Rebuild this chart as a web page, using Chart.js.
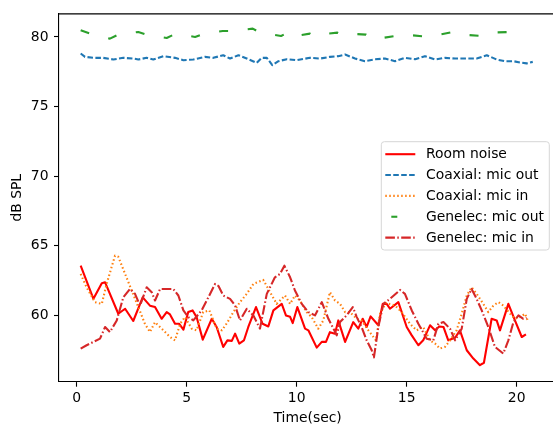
<!DOCTYPE html>
<html><head><meta charset="utf-8">
<script src="https://cdn.jsdelivr.net/npm/chart.js@4"></script>
<style>
html,body{margin:0;padding:0;background:#fff;overflow:hidden;width:553px;height:425px}
#wrap{position:relative;width:562px;height:425px}
</style>
</head><body><div id="wrap"><canvas id="c" width="562" height="425"></canvas></div>
<script>
// ---- data ----
const xTicks = [0, 5, 10, 15, 20];
const yTicks = [60, 65, 70, 75, 80];
const seriesNames = ["Room noise", "Coaxial: mic out", "Coaxial: mic in", "Genelec: mic out", "Genelec: mic in"];

const roomT = [0.18,0.76,1.14,1.29,1.89,2.2,2.57,3.0,3.33,3.56,3.86,4.09,4.24,4.47,4.66,4.85,5.07,5.27,5.45,5.73,6.14,6.36,6.66,6.85,7.05,7.2,7.39,7.6,7.8,8.15,8.45,8.71,8.94,9.32,9.51,9.7,9.82,10.03,10.38,10.53,10.91,11.14,11.33,11.51,11.74,11.89,12.2,12.57,12.8,13.0,13.18,13.36,13.71,13.91,14.09,14.24,14.62,15.0,15.23,15.53,15.75,16.06,16.29,16.48,16.67,16.89,17.2,17.42,17.73,18.03,18.33,18.51,18.86,19.09,19.24,19.62,19.92,20.23,20.42];
const roomV = [63.57,61.19,62.31,62.38,60.12,60.48,59.6,61.3,60.7,60.6,59.76,60.24,60.07,59.4,59.4,58.98,60.24,60.36,59.88,58.26,59.76,59.17,57.74,58.21,58.17,58.69,57.98,58.2,59.17,60.6,59.4,59.21,60.36,60.83,60.0,59.9,59.45,60.6,59.05,58.93,57.69,58.1,58.1,58.8,58.69,59.64,58.1,59.52,59.05,59.76,59.17,59.93,59.29,60.83,60.83,60.48,60.95,59.17,58.57,57.86,58.21,59.29,58.93,59.21,59.17,58.21,58.4,58.93,57.5,56.9,56.43,56.6,59.76,59.64,58.93,60.83,59.64,58.45,58.64];

const coaxOutT = [0.18,0.38,0.76,1.21,1.67,2.12,2.57,2.8,3.18,3.48,3.94,4.47,4.85,5.3,5.83,6.21,6.66,6.97,7.35,7.73,8.18,8.41,8.64,8.89,9.17,9.55,10.0,10.3,10.6,11.06,11.51,11.89,12.2,12.65,13.1,13.56,14.01,14.47,14.92,15.38,15.83,16.29,16.74,17.2,17.65,18.18,18.64,19.09,19.47,19.85,20.15,20.45,20.73];
const coaxOutV = [78.81,78.57,78.5,78.5,78.38,78.5,78.45,78.38,78.5,78.38,78.62,78.5,78.33,78.38,78.57,78.5,78.69,78.45,78.69,78.45,78.14,78.5,78.5,77.98,78.26,78.4,78.33,78.42,78.5,78.45,78.57,78.62,78.74,78.45,78.26,78.4,78.45,78.26,78.5,78.4,78.62,78.38,78.5,78.45,78.45,78.45,78.69,78.38,78.26,78.26,78.17,78.1,78.21];

const coaxInT = [0.18,0.45,0.83,1.14,1.36,1.74,1.89,2.2,2.5,2.8,3.1,3.33,3.56,3.94,4.24,4.47,4.7,4.92,5.23,5.45,5.75,6.03,6.36,6.6,6.85,7.12,7.42,7.73,8.03,8.48,8.79,9.09,9.47,9.7,9.92,10.15,10.45,10.68,10.98,11.21,11.51,11.74,11.97,12.2,12.42,12.73,12.95,13.26,13.6,13.79,14.05,14.47,14.77,15.15,15.45,15.75,16.06,16.29,16.51,16.74,16.97,17.27,17.5,17.73,17.95,18.18,18.48,18.71,18.94,19.17,19.39,19.7,19.92,20.15,20.38,20.53];
const coaxInV = [62.98,62.02,60.95,60.83,62.26,64.29,64.21,62.98,61.79,60.6,59.4,58.81,59.52,58.93,58.45,58.21,59.4,59.88,59.05,58.93,60.24,60.36,59.05,58.93,59.5,60.24,60.95,61.55,62.26,62.55,61.67,60.83,61.43,60.83,61.43,61.07,60.24,59.88,59.05,59.64,61.67,61.07,60.83,60.24,60.24,59.76,59.64,58.93,58.21,60.12,60.9,60.71,60.24,59.4,58.93,59.17,58.21,57.98,57.62,57.74,58.21,58.93,60.12,61.43,62.02,61.55,60.83,60.24,60.71,60.95,60.71,60.12,59.76,59.88,60.12,59.52];

const genOutT = [0.18,0.6,1.51,1.89,2.8,3.26,4.09,4.51,5.38,5.79,6.64,7.09,8.0,8.33,9.29,9.51,9.66,10.6,10.76,10.94,11.85,12.05,12.27,13.15,13.51,14.47,14.85,15.73,16.14,17.09,17.5,18.41,18.82,19.73,19.85,20.0];
const genOutV = [80.48,80.24,79.88,80.17,80.36,80.12,79.93,80.24,80.0,80.24,80.43,80.43,80.6,80.31,80.07,80.24,80.0,80.24,80.07,80.17,80.31,80.17,80.24,80.17,79.83,80.07,80.17,80.05,80.05,80.36,80.17,80.07,80.31,80.36,80.17,80.31];

const genInT = [0.18,0.45,0.76,1.06,1.29,1.51,1.82,2.12,2.42,2.65,2.88,3.18,3.41,3.56,3.79,4.09,4.39,4.62,4.85,5.07,5.3,5.68,5.91,6.29,6.45,6.66,6.97,7.2,7.42,7.73,8.03,8.33,8.64,9.01,9.24,9.44,9.7,9.92,10.23,10.53,10.83,11.14,11.44,11.67,11.82,11.97,12.27,12.55,12.73,12.95,13.18,13.41,13.51,13.71,13.94,14.24,14.7,14.92,15.23,15.53,15.91,16.21,16.44,16.67,16.97,17.2,17.5,17.73,17.95,18.18,18.41,18.71,19.01,19.39,19.62,19.85,20.08,20.3,20.45];
const genInV = [57.62,57.86,58.1,58.33,59.17,58.81,59.64,61.31,61.9,61.55,60.71,62.02,61.67,61.07,61.9,61.9,61.9,61.43,60.36,59.88,59.64,60.36,61.07,62.26,62.1,61.43,61.19,60.71,59.64,60.48,60.0,59.05,61.55,62.74,62.98,63.57,62.74,61.79,60.83,60.24,60.0,60.95,59.76,59.05,58.57,59.52,60.0,60.6,59.88,59.17,58.21,57.5,56.98,59.17,60.83,61.19,61.83,61.55,60.36,59.4,58.33,58.21,59.4,59.52,59.05,58.21,59.05,61.19,61.9,61.19,60.36,59.17,57.74,57.26,58.21,59.52,60.0,59.76,59.83];

// ---- styling ----
const FONT = "'DejaVu Sans', 'Liberation Sans', sans-serif";
const FS = 13.9;
const pts = (t, v) => t.map((x, i) => ({x: x, y: v[i]}));
const styles = [
  {color: '#ff0000', dash: []},
  {color: '#1f77b4', dash: [5.55, 2.4]},
  {color: '#ff7f0e', dash: [1.5, 2.475]},
  {color: '#2ca02c', dash: [9, 19.7]},
  {color: '#d62728', dash: [9.6, 2.4, 1.5, 2.4]}
];
const allT = [roomT, coaxOutT, coaxInT, genOutT, genInT];
const allV = [roomV, coaxOutV, coaxInV, genOutV, genInV];

const datasets = seriesNames.map((name, i) => ({
  label: name,
  data: pts(allT[i], allV[i]),
  borderColor: styles[i].color,
  backgroundColor: styles[i].color,
  borderDash: styles[i].dash,
  borderCapStyle: 'butt',
  borderJoinStyle: 'round',
  borderWidth: 2.1,
  pointRadius: 0,
  tension: 0,
  fill: false,
  order: 10 - i
}));

const framePlugin = {
  id: 'frame',
  afterDraw(chart) {
    const {ctx, chartArea: a} = chart;
    ctx.save();
    ctx.strokeStyle = '#000';
    ctx.lineWidth = 1.1;
    ctx.beginPath();
    ctx.moveTo(a.left, a.top); ctx.lineTo(a.right, a.top);
    ctx.lineTo(a.right, a.bottom);
    ctx.stroke();
    ctx.restore();
  }
};

const legendPlugin = {
  id: 'mplLegend',
  afterDraw(chart) {
    const {ctx, chartArea: a} = chart;
    const right = a.right - 7, left = right - 168, top = 141.7, bottom = 250;
    ctx.save();
    const r = 3;
    ctx.beginPath();
    ctx.moveTo(left + r, top);
    ctx.lineTo(right - r, top); ctx.arcTo(right, top, right, top + r, r);
    ctx.lineTo(right, bottom - r); ctx.arcTo(right, bottom, right - r, bottom, r);
    ctx.lineTo(left + r, bottom); ctx.arcTo(left, bottom, left, bottom - r, r);
    ctx.lineTo(left, top + r); ctx.arcTo(left, top, left + r, top, r);
    ctx.closePath();
    ctx.fillStyle = 'rgba(255,255,255,0.8)';
    ctx.fill();
    ctx.strokeStyle = '#d6d6d6';
    ctx.lineWidth = 1;
    ctx.stroke();
    ctx.font = FS + 'px ' + FONT;
    ctx.textBaseline = 'middle';
    ctx.textAlign = 'left';
    seriesNames.forEach((name, i) => {
      const y = 154.2 + i * 20.85;
      ctx.strokeStyle = styles[i].color;
      ctx.lineWidth = 2.1;
      ctx.lineCap = 'butt';
      ctx.beginPath();
      if (i === 3) {
        ctx.setLineDash([]);
        ctx.moveTo(left + 10, y); ctx.lineTo(left + 16, y);
      } else {
        ctx.setLineDash(styles[i].dash);
        ctx.moveTo(left + 4, y); ctx.lineTo(left + 34, y);
      }
      ctx.stroke();
      ctx.setLineDash([]);
      ctx.fillStyle = '#000';
      ctx.fillText(name, left + 44.7, y + 0.5);
    });
    ctx.restore();
  }
};

new Chart(document.getElementById('c'), {
  type: 'line',
  data: {datasets: datasets},
  plugins: [framePlugin, legendPlugin],
  options: {
    responsive: false,
    animation: false,
    devicePixelRatio: 1,
    layout: {padding: {top: 11.7, left: 0, right: 5.7, bottom: 0}},
    plugins: {legend: {display: false}, tooltip: {enabled: false}},
    scales: {
      x: {
        type: 'linear',
        min: -0.805, max: 21.8,
        afterBuildTicks: s => { s.ticks = xTicks.map(v => ({value: v})); },
        afterFit: s => { s.height = 43.3; },
        grid: {display: true, drawOnChartArea: false, drawTicks: true, tickLength: 5, tickWidth: 1.1, tickColor: '#000'},
        border: {display: true, color: '#000', width: 1.1},
        ticks: {color: '#000', font: {family: FONT, size: FS}, padding: 3, maxRotation: 0, autoSkip: false},
        title: {display: true, text: 'Time(sec)', color: '#000', font: {family: FONT, size: FS, lineHeight: 1}, padding: {top: 0, bottom: 0}}
      },
      y: {
        type: 'linear',
        min: 55.24, max: 81.66,
        afterBuildTicks: s => { s.ticks = yTicks.map(v => ({value: v})); },
        afterFit: s => { s.width = 59; },
        grid: {display: true, drawOnChartArea: false, drawTicks: true, tickLength: 5, tickWidth: 1.1, tickColor: '#000'},
        border: {display: true, color: '#000', width: 1.1},
        ticks: {color: '#000', font: {family: FONT, size: FS}, padding: 5.5, autoSkip: false},
        title: {display: true, text: 'dB SPL', color: '#000', font: {family: FONT, size: FS, lineHeight: 1}, padding: {top: 10, bottom: 0}}
      }
    }
  }
});
</script>
</body></html>
